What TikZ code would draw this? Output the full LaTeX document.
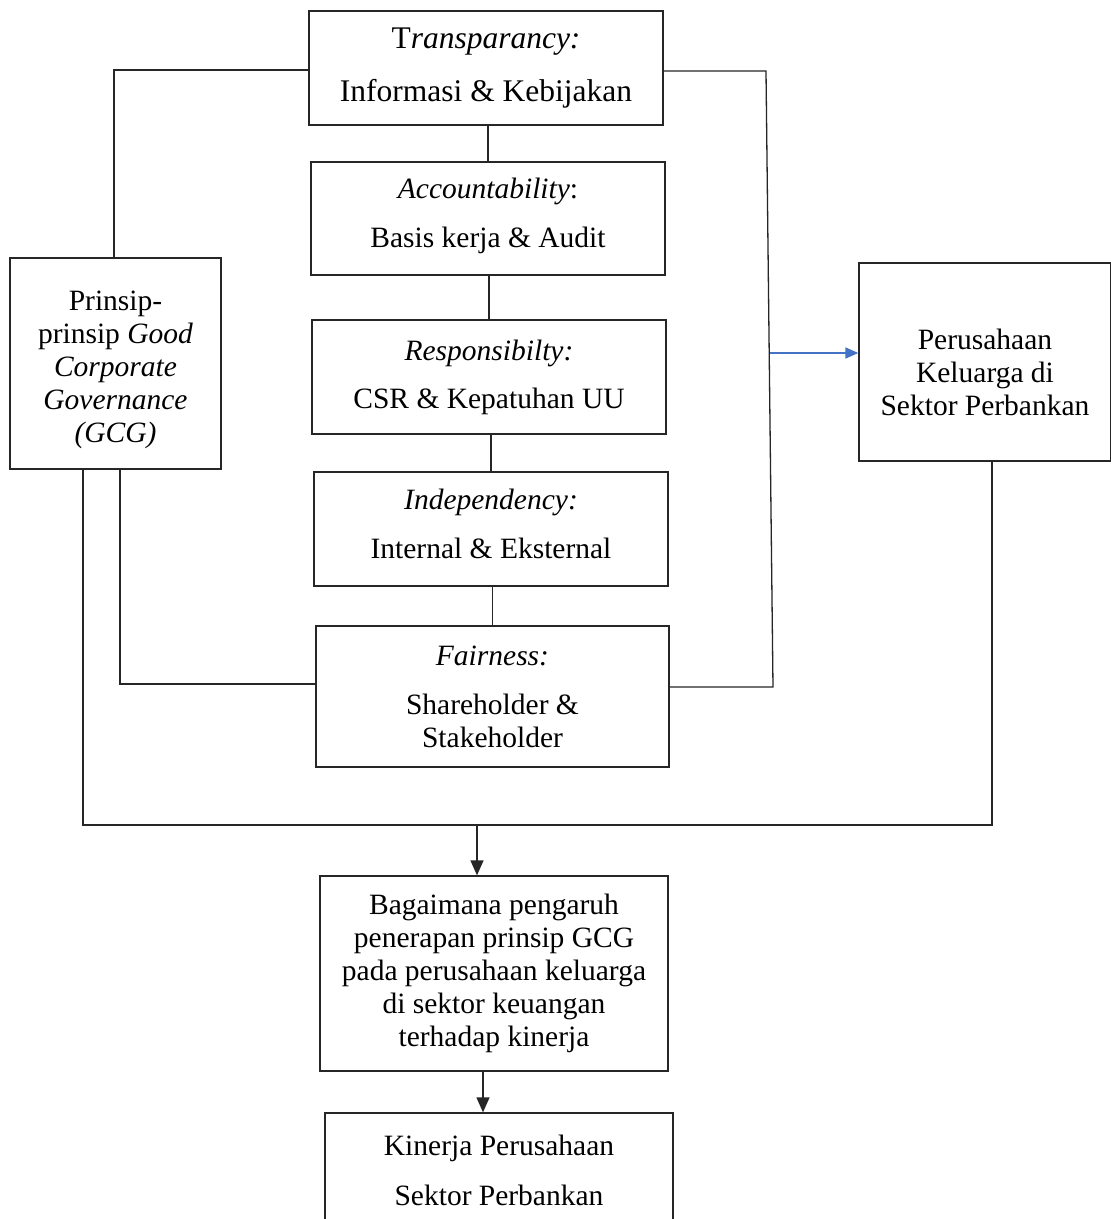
\documentclass[tikz,border=0pt]{standalone}
\usepackage{fontspec}
\setmainfont{Liberation Serif}
\usetikzlibrary{arrows.meta}
\definecolor{linkblue}{HTML}{4472C4}
\begin{document}
\begin{tikzpicture}[x=1pt,y=-1pt,
  box/.style={draw=black!85, line width=1.3pt, align=center, inner sep=0pt,
    font=\fontsize{29.5}{33}\selectfont},
  txt/.style={align=center, inner sep=0pt, font=\fontsize{29.5}{33}\selectfont},
  wire/.style={draw=black!85, line width=1.3pt},
  tipdown/.style={-{Triangle[width=13pt,length=15pt]}},
  bluearrow/.style={draw=linkblue, line width=1.5pt, -{Triangle[width=11pt,length=13pt]}, linkblue}]
\useasboundingbox (0,0) rectangle (1111,1219);
\fill[white] (0,0) rectangle (1111,1219);

\node[box, minimum width=354pt, minimum height=114pt, font=\fontsize{31.5}{36}\selectfont] (T) at (486,68)
  {T\textit{ransparancy:}\\[17pt]Informasi \& Kebijakan};
\node[box, minimum width=354pt, minimum height=113pt] (A) at (488,218.5) {};
\node[txt] (At) at (488,215.5) {\textit{Accountability}:\\[16pt]Basis kerja \& Audit};
\node[box, minimum width=354pt, minimum height=114pt] (R) at (489,377)
  {\textit{Responsibilty:}\\[15pt]CSR \& Kepatuhan UU};
\node[box, minimum width=354pt, minimum height=114pt] (I) at (491,529) {};
\node[txt] (It) at (491,524) {\textit{Independency:}\\[16pt]Internal \& Eksternal};
\node[box, minimum width=353pt, minimum height=141pt] (F) at (492.5,696.5)
  {\textit{Fairness:}\\[16pt]Shareholder \&\\Stakeholder};
\node[box, minimum width=211pt, minimum height=211pt] (G) at (115.5,363.5) {};
\node[txt] (Gt) at (115.5,369.5)
  {Prinsip-\\prinsip \textit{Good}\\\textit{Corporate}\\\textit{Governance}\\\textit{(GCG)}};
\node[box, minimum width=252pt, minimum height=198pt] (P) at (985,362) {};
\node[txt] (Pt) at (985,372) {Perusahaan\\Keluarga di\\Sektor Perbankan};
\node[box, minimum width=348pt, minimum height=195pt] (B) at (494,973.5)
  {Bagaimana pengaruh\\penerapan prinsip GCG\\pada perusahaan keluarga\\di sektor keuangan\\terhadap kinerja};
\node[box, minimum width=348pt, minimum height=114pt] (K) at (499,1170)
  {Kinerja Perusahaan\\[17pt]Sektor Perbankan};

% central chain
\draw[wire] (A.north |- T.south) -- (A.north);
\draw[wire] (R.north |- A.south) -- (R.north);
\draw[wire] (I.north |- R.south) -- (I.north);
\draw[wire] (F.north |- I.south) -- (F.north);

% left bracket from Transparency to GCG
\coordinate (lt) at (114,70);
\draw[wire] (lt -| T.west) -- (lt) -- (lt |- G.north);

% right bracket from Transparency to Fairness
\coordinate (rt) at (766,71);
\coordinate (rb) at (773,687);
\draw[wire] (rt -| T.east) -- (rt) -- (rb) -- (rb -| F.east);

% blue arrow to family firms
\coordinate (bl) at (770,353);
\draw[bluearrow] (bl) -- (bl -| P.west);

% GCG to Fairness
\coordinate (g1) at (120,684);
\draw[wire] (g1 |- G.south) -- (g1) -- (g1 -| F.west);

% big loop GCG -> bottom -> family firms
\coordinate (g2) at (83,825);
\coordinate (pb) at (992,825);
\draw[wire] (g2 |- G.south) -- (g2) -- (pb) -- (pb |- P.south);

% arrows down
\coordinate (m) at (477,825);
\draw[wire, tipdown] (m) -- (m |- B.north);
\coordinate (bk) at (483,1000);
\draw[wire, tipdown] (bk |- B.south) -- (bk |- K.north);
\end{tikzpicture}
\end{document}
